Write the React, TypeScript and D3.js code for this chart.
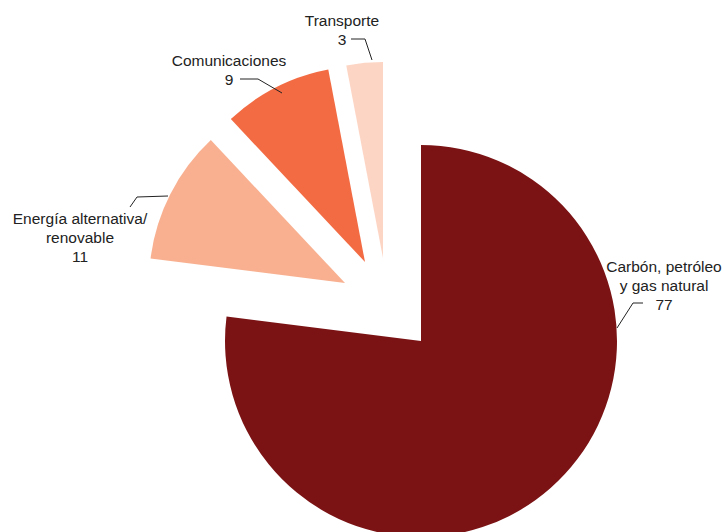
import React from 'react';
import * as d3 from 'd3';

const categories = ['Carbón, petróleo y gas natural', 'Energía alternativa/ renovable', 'Comunicaciones', 'Transporte'];
const values = [77, 11, 9, 3];
const labelLines = [
  ['Carbón, petróleo', 'y gas natural', '77'],
  ['Energía alternativa/', 'renovable', '11'],
  ['Comunicaciones', '9'],
  ['Transporte', '3'],
];
const colors = ['#7b1315', '#f8b090', '#f26b43', '#fdd5c5'];

const W = 724, H = 532;
const cx = 421, cy = 341, R = 196;
// explode offsets per slice (px)
const offsets: [number, number][] = [[0, 0], [-76, -58], [-56, -79], [-38, -83]];
// label anchor positions and leader lines
const labelPos: [number, number][] = [[664, 272], [80, 224], [229, 66], [342, 26]];
const leaders: [number, number][][] = [
  [[617, 328], [633, 303], [643, 303]],
  [[168, 196], [137, 197], [130, 207]],
  [[282, 93], [258, 79], [240, 79]],
  [[372, 60], [365, 39], [351, 39]],
];

const App: React.FC = () => {
  const pie = d3.pie<number>().sort(null)(values);
  const arc = d3.arc<d3.PieArcDatum<number>>().innerRadius(0).outerRadius(R);
  const line = d3.line();
  return (
    <svg width={W} height={H} style={{ position: 'absolute', left: 0, top: 0, background: '#fff' }}
      fontFamily="'Liberation Sans', Arial, sans-serif" fontSize={15.5}>
      {pie.map((p, i) => (
        <path key={categories[i]} d={arc(p) || ''} fill={colors[i]}
          transform={`translate(${cx + offsets[i][0]},${cy + offsets[i][1]})`} />
      ))}
      {leaders.map((l, i) => (
        <path key={i} d={line(l) || ''} fill="none" stroke="#222" strokeWidth={1} />
      ))}
      {labelLines.map((ls, i) => (
        <text key={i} x={labelPos[i][0]} y={labelPos[i][1]} textAnchor="middle" fill="#222">
          {ls.map((t, j) => (
            <tspan key={j} x={labelPos[i][0]} dy={j === 0 ? 0 : 19}>{t}</tspan>
          ))}
        </text>
      ))}
    </svg>
  );
};

export default App;
